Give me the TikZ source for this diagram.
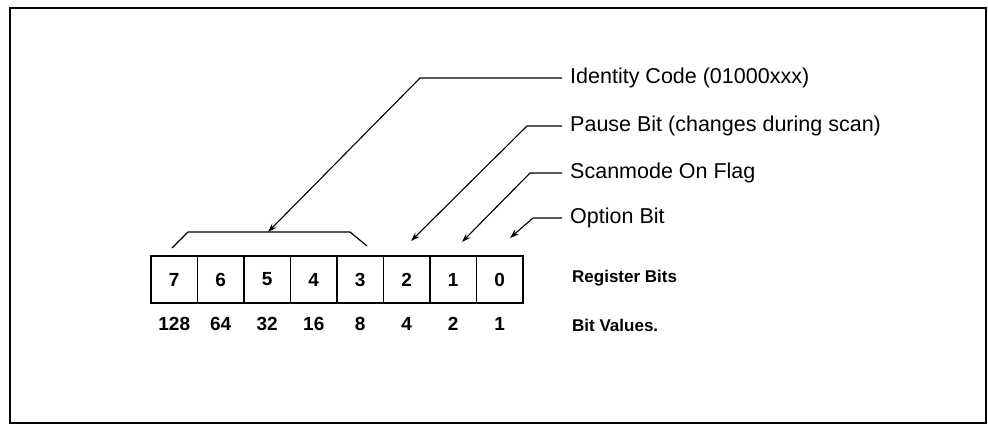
\documentclass[tikz,border=0pt]{standalone}
\usepackage{fontspec}
\setmainfont{Liberation Sans}
\usetikzlibrary{arrows.meta}
\begin{document}
\begin{tikzpicture}[x=1pt,y=-1pt,
  cell/.style={draw, line width=1.3pt, minimum width=46.5pt, minimum height=47pt, inner sep=0pt, font=\fontsize{19}{21}\selectfont\bfseries},
  val/.style={inner sep=0pt, font=\fontsize{19}{21}\selectfont\bfseries},
  lbl/.style={anchor=west, inner sep=0pt, font=\fontsize{21.5}{24}\selectfont},
  hdr/.style={anchor=west, inner sep=0pt, font=\fontsize{17}{20}\selectfont\bfseries},
  conn/.style={line width=1.1pt, line join=round, -{Stealth[length=9pt,width=6pt]}},
  brk/.style={line width=1.2pt, line join=round},
]
\useasboundingbox (0,0) rectangle (988,427);
\draw[line width=2.8pt] (10,8) rectangle (986,423);
% register cells and bit values
\foreach \i/\b/\v in {0/7/128,1/6/64,2/5/32,3/4/16,4/3/8,5/2/4,6/1/2,7/0/1}{
  \node[cell] (c\b) at ({174.25+46.5*\i},279.5) {\b};
  \node[val] (v\b) at ({174.25+46.5*\i},324) {\v};
}
% right-hand texts
\node[lbl] (lid) at (570,78) {Identity Code (01000xxx)};
\node[lbl] (lpause) at (570,126) {Pause Bit (changes during scan)};
\node[lbl] (lscan) at (570,173) {Scanmode On Flag};
\node[lbl] (lopt) at (570,218) {Option Bit};
\node[hdr] (lreg) at (572,278) {Register Bits};
\node[hdr] (lval) at (572,325) {Bit Values.};
% bracket over bits 7..3
\coordinate (bl) at (172,248);
\coordinate (bl2) at (188,232);
\coordinate (bmid) at (268,232);
\coordinate (br2) at (350,232);
\coordinate (br) at (367,246);
\draw[brk] (bl) -- (bl2) -- (br2) -- (br);
% connectors
\coordinate (kid) at (420,78);
\coordinate (kpause) at (527,126);
\coordinate (tpause) at (411,241);
\coordinate (kscan) at (530,173);
\coordinate (tscan) at (462,242);
\coordinate (kopt) at (533,218);
\coordinate (topt) at (510,238);
\draw[conn] ([xshift=-8pt]lid.west) -- (kid) -- (bmid);
\draw[conn] ([xshift=-8pt]lpause.west) -- (kpause) -- (tpause);
\draw[conn] ([xshift=-8pt]lscan.west) -- (kscan) -- (tscan);
\draw[conn] ([xshift=-8pt]lopt.west) -- (kopt) -- (topt);
\end{tikzpicture}
\end{document}
